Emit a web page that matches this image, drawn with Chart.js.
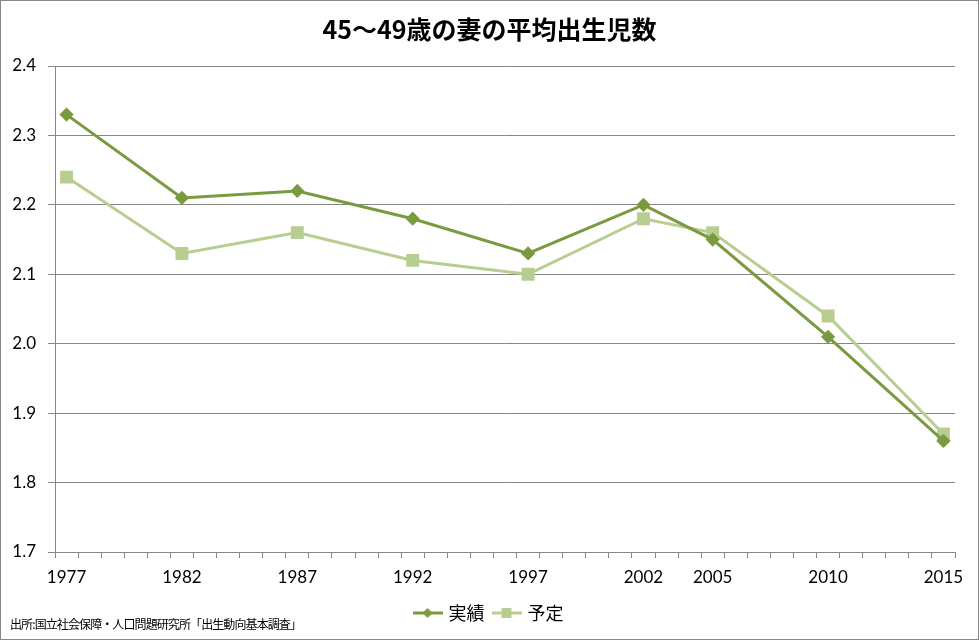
<!DOCTYPE html>
<html>
<head>
<meta charset="utf-8">
<script src="https://cdn.jsdelivr.net/npm/chart.js@4"></script>
<style>
  body { margin: 0; background: #fff; }
  #wrap { position: relative; width: 979px; height: 640px; }
  #source {
    position: absolute; left: 10px; top: 615px;
    font-family: "Noto Sans CJK JP", sans-serif; font-size: 12px; color: #000;
    letter-spacing: -0.9px; white-space: nowrap;
  }
</style>
</head>
<body>
<div id="wrap">
  <canvas id="chart" width="979" height="640"></canvas>
  <div id="source">出所:国立社会保障・人口問題研究所「出生動向基本調査」</div>
</div>
<script>
const years = [1977, 1982, 1987, 1992, 1997, 2002, 2005, 2010, 2015];
const jisseki = [2.33, 2.21, 2.22, 2.18, 2.13, 2.20, 2.15, 2.01, 1.86];
const yotei = [2.24, 2.13, 2.16, 2.12, 2.10, 2.18, 2.16, 2.04, 1.87];
const yTicks = [1.7, 1.8, 1.9, 2.0, 2.1, 2.2, 2.3, 2.4];

const darkGreen = '#7A9A40';
const lightGreen = '#B8CE91';
const gridGray = '#868686';

// legend symbol: short line with marker in the middle
function legendIcon(color, style) {
    const c = document.createElement('canvas');
    c.width = 30; c.height = 14;
    const g = c.getContext('2d');
    g.strokeStyle = color; g.lineWidth = 3;
    g.beginPath(); g.moveTo(0, 7); g.lineTo(30, 7); g.stroke();
    g.fillStyle = color;
    g.beginPath();
    if (style === 'diamond') {
        g.moveTo(15, 2); g.lineTo(20, 7); g.lineTo(15, 12); g.lineTo(10, 7);
    } else {
        g.rect(10, 2, 10, 10);
    }
    g.fill();
    return c;
}
const icons = [legendIcon(darkGreen, 'diamond'), legendIcon(lightGreen, 'square')];

// x tick marks sit between years, labels sit on the years
const xTickValues = [];
for (let v = 1976.5; v <= 2015.5; v += 1) xTickValues.push(v);
years.forEach(y => xTickValues.push(y));
xTickValues.sort((a, b) => a - b);

const frame = {
    id: 'frame',
    afterDraw(chart) {
        const ctx = chart.ctx;
        ctx.save();
        ctx.strokeStyle = gridGray;
        ctx.lineWidth = 1;
        ctx.strokeRect(0.5, 0.5, chart.width - 1, chart.height - 1);
        ctx.restore();
    }
};

new Chart(document.getElementById('chart'), {
    type: 'line',
    data: {
        datasets: [{
            label: '実績',
            data: years.map((y, i) => ({ x: y, y: jisseki[i] })),
            borderColor: darkGreen,
            backgroundColor: darkGreen,
            borderWidth: 3,
            pointStyle: 'rectRot',
            pointRadius: 5,
            pointHoverRadius: 5,
            tension: 0
        }, {
            label: '予定',
            data: years.map((y, i) => ({ x: y, y: yotei[i] })),
            borderColor: lightGreen,
            backgroundColor: lightGreen,
            borderWidth: 3,
            pointStyle: 'rect',
            pointRadius: 7,
            pointHoverRadius: 7,
            tension: 0
        }]
    },
    options: {
        responsive: false,
        animation: false,
        layout: { padding: { left: 0, right: 0, top: 0, bottom: 8 } },
        scales: {
            x: {
                type: 'linear',
                min: 1976.5,
                max: 2015.5,
                afterBuildTicks: s => { s.ticks = xTickValues.map(v => ({ value: v })); },
                afterFit: s => { s.height = 42; s.paddingRight = 24; },
                ticks: {
                    autoSkip: false,
                    maxRotation: 0,
                    padding: 9,
                    color: '#000',
                    font: { family: 'Lato', size: 17 },
                    callback: v => years.includes(v) ? String(v) : ''
                },
                grid: {
                    drawOnChartArea: false,
                    tickLength: 6,
                    color: c => (c.tick && c.tick.value % 1 !== 0) ? gridGray : 'rgba(0,0,0,0)'
                },
                border: { color: gridGray }
            },
            y: {
                min: 1.7,
                max: 2.4,
                afterBuildTicks: s => { s.ticks = yTicks.map(v => ({ value: v })); },
                afterFit: s => { s.width = 55; },
                ticks: {
                    padding: 12,
                    color: '#000',
                    font: { family: 'Lato', size: 17 },
                    callback: v => v.toFixed(1)
                },
                grid: { color: gridGray, tickLength: 7 },
                border: { color: gridGray }
            }
        },
        plugins: {
            title: {
                display: true,
                text: '45～49歳の妻の平均出生児数',
                color: '#000',
                font: { family: 'Noto Sans CJK JP', size: 25, weight: 'bold' },
                padding: { top: 14, bottom: 22 }
            },
            legend: {
                position: 'bottom',
                labels: {
                    color: '#000',
                    font: { family: 'Noto Sans CJK JP', size: 18 },
                    usePointStyle: true,
                    pointStyleWidth: 24,
                    padding: 10,
                    generateLabels: chart => Chart.defaults.plugins.legend.labels.generateLabels(chart)
                        .map((l, i) => Object.assign(l, { pointStyle: icons[i] }))
                }
            },
            tooltip: { enabled: false }
        }
    },
    plugins: [frame]
});
</script>
</body>
</html>
